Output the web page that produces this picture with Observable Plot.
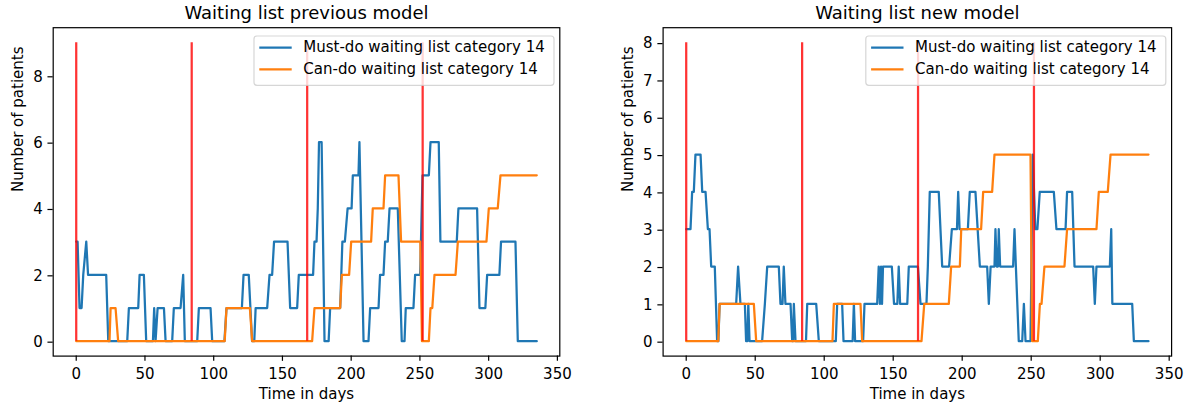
<!DOCTYPE html>
<html><head><meta charset="utf-8">
<script src="https://cdn.jsdelivr.net/npm/d3@7"></script>
<script src="https://cdn.jsdelivr.net/npm/@observablehq/plot@0.6"></script>
<style>
html,body{margin:0;padding:0;background:#fff;}
#wrap{position:relative;width:1190px;height:410px;overflow:hidden;}
.panel{position:absolute;top:0;width:595px;height:410px;}
</style></head><body><div id="wrap"></div>
<script>
// ---- text ----
const titles = ["Waiting list previous model", "Waiting list new model"];
const xLabel = "Time in days";
const yLabel = "Number of patients";
const seriesNames = ["Must-do waiting list category 14", "Can-do waiting list category 14"];
const seriesColors = ["#1f77b4", "#ff7f0e"];

// ---- ticks ----
const xTicks = [0, 50, 100, 150, 200, 250, 300, 350];
const yTicksPrev = [0, 2, 4, 6, 8];
const yTicksNew = [0, 1, 2, 3, 4, 5, 6, 7, 8];

// ---- period markers (red lines) ----
const periodStarts = [0, 84, 168, 252];
const periodTopPrev = 9;
const periodTopNew = 8;

// ---- series: [day, patients] ----
const prevMust = [[0,3],[1,3],[2.4,1],[3.9,1],[5.1,2],[7.3,3],[8.6,2],[21.8,2],[23.3,0],
 [37.1,0],[38.3,1],[45.1,1],[46.1,2],[49.2,2],[50.9,0],
 [55.8,0],[56.7,1],[57.7,0],[59.2,1],[63.8,1],[65,0],
 [69.8,0],[71,1],[75.9,1],[77.8,2],[79,0],
 [88,0],[89.2,1],[97.7,1],[98.9,0],
 [107.8,0],[109.3,1],[120.5,1],[121.7,2],[125.5,2],[127.9,0],
 [129.5,0],[130.5,1],[138.9,1],[140.6,2],[142.5,2],[143.9,3],[153.7,3],[155.6,1],[160.7,1],[161.9,2],
 [172.3,2],[173.3,3],[174.8,3],[175.7,4],[176.6,6],[178.5,6],[180.6,0],
 [183.6,0],[184.7,1],[192,1],[192.8,2],[193.6,3],[195.4,3],[197.4,4],[200.3,4],[201.2,5],[205.3,5],[206,6],[209,0],
 [212.6,0],[213.8,1],[219.9,1],[221,2],[223.5,2],[224.7,3],[226.6,3],[227.9,4],[233.9,4],[236.8,0],
 [238.8,0],[239.7,1],[245.3,1],[246.5,2],[250.2,2],[251.9,5],[256.5,5],[257.7,6],[263.7,6],[264.9,3],
 [276.8,3],[278,4],[291.6,4],[293.3,1],[297.6,1],[298.9,2],[307.8,2],[309,3],[319.5,3],[321.2,0],[335,0]];

const prevCan = [[0,0],[24.2,0],[25,1],[28.6,1],[30.5,0],[108,0],[109.3,1],[126.3,1],[128,0],
 [171.6,0],[173.3,1],[192,1],[193.2,2],[198.5,2],[200,3],[214.5,3],[215.7,4],[223.5,4],[224.7,5],
 [234.4,5],[236.3,3],[250.3,3],[251.5,0],[256.5,0],[257.7,1],[259,1],[260.6,2],[275.9,2],[277.6,3],
 [298.4,3],[300.1,4],[306.6,4],[308.6,5],[335,5]];

const newMust = [[0,3],[3.1,3],[4.3,4],[5.5,4],[6.7,5],[10.4,5],[11.6,4],[14,4],[15.7,3],[16.9,3],[18.1,2],[20.7,2],[22.4,0],
 [23.3,0],[24.2,1],[36.2,1],[37.6,2],[39.3,1],[42.5,1],[43.4,0],[44.3,0],[45,1],[45.9,0],
 [55,0],[57,1],[58.7,2],[67.1,2],[68.3,1],[69.8,1],[70.7,2],[71.9,1],[75.6,1],[76.8,0],[77.4,0],[78,1],[79.2,0],
 [86.8,0],[87.7,1],[94.2,1],[96.1,0],[108.4,0],[109.4,1],[113,1],[114,0],[120.6,0],[121.5,1],[122.4,0],
 [128.2,0],[129.2,1],[138.4,1],[139.5,2],[140.4,1],[141.2,2],[141.9,1],[142.6,2],[149,2],[150.6,1],[153,1],[154,2],[155,1],
 [160.2,1],[161.3,2],[167.9,2],[169.8,1],[174.1,1],[175.1,2],[176.5,4],[183,4],[185.5,2],[190.5,2],[192.5,3],
 [196.2,3],[197.1,4],[198.1,3],[204.1,3],[205.5,4],[209.6,4],[212.8,2],[218.1,2],[219.3,1],[220.6,2],[223.4,2],
 [224.1,3],[225,2],[225.9,2],[226.5,3],[227.5,2],[236.9,2],[237.9,3],[238.9,2],[241,0],[243.5,0],[244.7,1],[245.9,0],
 [249.5,0],[251.1,5],[253,3],[254.5,3],[256.2,4],[266.4,4],[268.3,3],[274.9,3],[276,4],[279.7,4],[281.4,2],
 [294.9,2],[296.1,1],[297.3,2],[307,2],[308,3],[308.8,1],[323.2,1],[324.4,0],[335,0]];

const newCan = [[0,0],[23.2,0],[24.2,1],[49,1],[50.7,0],[106,0],[107,1],[126.3,1],[127.5,0],
 [170.5,0],[172.5,1],[190.3,1],[192,2],[198.3,2],[199.3,3],[213.7,3],[215.2,4],[221.7,4],[223.4,5],
 [249.5,5],[250.7,0],[254.8,0],[256.3,1],[257.5,1],[259.6,2],[274.1,2],[276,3],[297.3,3],[299,4],
 [305.5,4],[307.5,5],[335,5]];

const FONT = '"DejaVu Sans", "Liberation Sans", sans-serif';

function panel({title, must, can, yTicks, yDomain, periodTop, marginLeft, marginRight, left}) {
  const W = 595, H = 410, mt = 27.2, mb = 54.4;
  const rows = a => a.map(([day, n]) => ({day, n}));
  const svg = Plot.plot({
    width: W, height: H, marginTop: mt, marginBottom: mb, marginLeft, marginRight,
    style: {fontFamily: FONT, fontSize: "15px", color: "#000", background: "transparent", overflow: "visible"},
    x: {domain: [-16.75, 351.75]},
    y: {domain: yDomain},
    marks: [
      Plot.line(rows(must), {x: "day", y: "n", stroke: seriesColors[0], strokeWidth: 2.25}),
      Plot.line(rows(can), {x: "day", y: "n", stroke: seriesColors[1], strokeWidth: 2.25}),
      Plot.ruleX(periodStarts, {x: d => d, y1: 0, y2: periodTop, stroke: "red", strokeWidth: 2.25, strokeOpacity: 0.8}),
      Plot.frame({stroke: "#000", strokeWidth: 1.2}),
      Plot.axisX({ticks: xTicks, tickSize: 5.25, tickPadding: 7, strokeWidth: 1.2, label: null}),
      Plot.axisY({ticks: yTicks, tickSize: 5.25, tickPadding: 5.25, strokeWidth: 1.2, label: null, dy: 1}),
      Plot.text([title], {text: d => d, frameAnchor: "top", lineAnchor: "bottom", dy: -9, fontSize: 18}),
      Plot.text([xLabel], {text: d => d, frameAnchor: "bottom", lineAnchor: "bottom", dy: 42.9, fontSize: 15}),
      Plot.text([yLabel], {text: d => d, frameAnchor: "left", lineAnchor: "bottom", rotate: -90, dx: -30.2, fontSize: 15})
    ]
  });
  // legend (upper right inside the frame)
  const boxRight = W - marginRight - 5.3, boxW = 300, boxLeft = boxRight - boxW, boxTop = 36, boxH = 49.3;
  const g = d3.select(svg).append("g").attr("font-family", FONT).attr("font-size", 15);
  g.append("rect").attr("x", boxLeft).attr("y", boxTop).attr("width", boxW).attr("height", boxH)
    .attr("rx", 3).attr("fill", "#fff").attr("fill-opacity", 0.8)
    .attr("stroke", "#cccccc").attr("stroke-opacity", 0.8).attr("stroke-width", 1.2);
  seriesNames.forEach((name, i) => {
    const cy = 47.7 + i * 21.6;
    g.append("line").attr("x1", boxLeft + 5.3).attr("x2", boxLeft + 37.7).attr("y1", cy).attr("y2", cy)
      .attr("stroke", seriesColors[i]).attr("stroke-width", 2.25);
    g.append("text").attr("x", boxLeft + 49.3).attr("y", cy + 4.3).attr("text-anchor", "start")
      .attr("fill", "#000").text(name);
  });
  const div = document.createElement("div");
  div.className = "panel";
  div.style.left = left + "px";
  div.appendChild(svg);
  document.getElementById("wrap").appendChild(div);
}

panel({title: titles[0], must: prevMust, can: prevCan, yTicks: yTicksPrev, yDomain: [-0.45, 9.45],
  periodTop: periodTopPrev, marginLeft: 52.7, marginRight: 35.7, left: 0});
panel({title: titles[1], must: newMust, can: newCan, yTicks: yTicksNew, yDomain: [-0.4, 8.4],
  periodTop: periodTopNew, marginLeft: 67.6, marginRight: 18.9, left: 595});
</script></body></html>
